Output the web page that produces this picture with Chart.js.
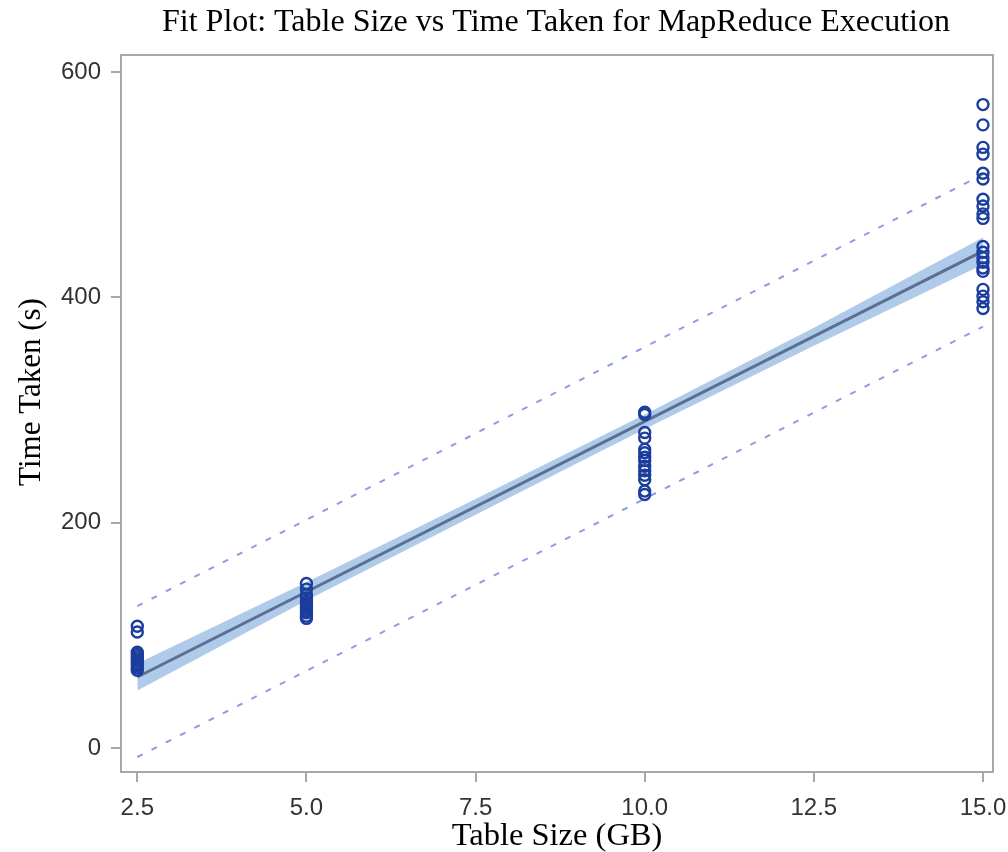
<!DOCTYPE html>
<html>
<head>
<meta charset="utf-8">
<script src="https://cdn.jsdelivr.net/npm/chart.js@4.4.1/dist/chart.umd.min.js"></script>
<style>
html,body{margin:0;padding:0;background:#fff;}
#wrap{width:1008px;height:852px;}
</style>
</head>
<body>
<div id="wrap"><canvas id="c" width="1008" height="852"></canvas></div>
<script>
// ---- data ----
const titleText = "Fit Plot: Table Size vs Time Taken for MapReduce Execution";
const xTitle = "Table Size (GB)";
const yTitle = "Time Taken (s)";
const xTicks = [2.5, 5.0, 7.5, 10.0, 12.5, 15.0];
const yTicks = [0, 200, 400, 600];

const obs25 = [108, 103, 85, 83, 81, 79, 77, 75, 73, 71, 69];
const obs5 = [146, 141, 136, 133, 130, 128, 126, 124, 122, 120, 117, 115];
const obs10 = [298, 296, 280, 275, 265, 262, 258, 255, 250, 246, 242, 238, 228, 225];
const obs15 = [571, 553, 533, 527, 510, 505, 487, 481, 474, 470, 445, 440, 435, 431, 426, 423, 407, 401, 396, 390];

const fitX = [2.5, 15];
const fitY = [63, 441];

const bandX = [2.5, 5, 7.5, 10, 12.5, 15];
const clUpper = [75, 147, 221, 296, 373, 453];
const clLower = [51, 131, 207, 283, 357, 429];

const predX = [2.5, 15];
const predUpper = [126, 509];
const predLower = [-8, 374];

// ---- build ----
function pts(xs, ys){ return xs.map((x,i)=>({x:x, y:ys[i]})); }
const scatterPts = [].concat(
  obs25.map(v=>({x:2.5,y:v})),
  obs5.map(v=>({x:5,y:v})),
  obs10.map(v=>({x:10,y:v})),
  obs15.map(v=>({x:15,y:v}))
);

const frame = {
  id:'frame',
  beforeDatasetsDraw(chart){
    const a = chart.chartArea, ctx = chart.ctx;
    ctx.save();
    ctx.strokeStyle = '#a8a8a8';
    ctx.lineWidth = 2;
    ctx.strokeRect(a.left, a.top, a.right-a.left, a.bottom-a.top);
    ctx.restore();
  },
  afterDraw(chart){
    const ctx = chart.ctx;
    ctx.save();
    ctx.fillStyle = '#000';
    ctx.textAlign = 'center';
    ctx.textBaseline = 'middle';
    ctx.font = '32px "Liberation Serif"';
    ctx.fillText(titleText, 556, 23);
    ctx.textBaseline = 'alphabetic';
    ctx.font = '32.5px "Liberation Serif"';
    ctx.fillText(xTitle, 557, 845);
    ctx.translate(40, 392);
    ctx.rotate(-Math.PI/2);
    ctx.font = '31px "Liberation Serif"';
    ctx.fillText(yTitle, 0, 0);
    ctx.restore();
  }
};

new Chart(document.getElementById('c'), {
  type: 'scatter',
  data: {
    datasets: [
      { data: pts(bandX, clUpper), showLine:true, fill:'+1', backgroundColor:'rgba(150,185,225,0.75)', borderWidth:0, pointRadius:0, order:5 },
      { data: pts(bandX, clLower), showLine:true, fill:false, borderWidth:0, pointRadius:0, order:5 },
      { data: pts(fitX, fitY), showLine:true, borderColor:'#5a6f92', borderWidth:3, pointRadius:0, order:4 },
      { data: pts(predX, predUpper), showLine:true, borderColor:'#8c9de2', borderWidth:2, borderDash:[6,10], pointRadius:0, order:3 },
      { data: pts(predX, predLower), showLine:true, borderColor:'#8c9de2', borderWidth:2, borderDash:[6,10], pointRadius:0, order:3 },
      { data: scatterPts, showLine:false, pointStyle:'circle', pointRadius:5.5, pointBorderWidth:2.4, pointBackgroundColor:'rgba(0,0,0,0)', pointBorderColor:'#1a3d9e', order:1 }
    ]
  },
  options: {
    responsive:false,
    animation:false,
    devicePixelRatio:1,
    layout:{ padding:{ left:0, right:15, top:55, bottom:0 } },
    plugins:{
      legend:{display:false},
      tooltip:{enabled:false},
      title:{ display:false }
    },
    scales:{
      x:{
        type:'linear', min:2.259, max:15.148,
        afterBuildTicks(s){ s.ticks = xTicks.map(v=>({value:v})); },
        afterFit(s){ s.height = 80; s.paddingLeft = 0; s.paddingRight = 0; },
        ticks:{ color:'#333', font:{family:'Liberation Sans', size:24}, padding:12, maxRotation:0,
          callback:(v)=>Number(v).toFixed(1) },
        grid:{ drawOnChartArea:false, drawTicks:true, tickLength:10, color:'#a8a8a8', lineWidth:2 },
        border:{ display:true, color:'#a8a8a8', width:2 },
        title:{ display:false }
      },
      y:{
        type:'linear', min:-21.3, max:615,
        afterBuildTicks(s){ s.ticks = yTicks.map(v=>({value:v})); },
        afterFit(s){ s.width = 121; s.paddingTop = 0; s.paddingBottom = 0; },
        ticks:{ color:'#333', font:{family:'Liberation Sans', size:24}, padding:10 },
        grid:{ drawOnChartArea:false, drawTicks:true, tickLength:10, color:'#a8a8a8', lineWidth:2 },
        border:{ display:true, color:'#a8a8a8', width:2 },
        title:{ display:false }
      }
    }
  },
  plugins:[frame]
});
</script>
</body>
</html>
